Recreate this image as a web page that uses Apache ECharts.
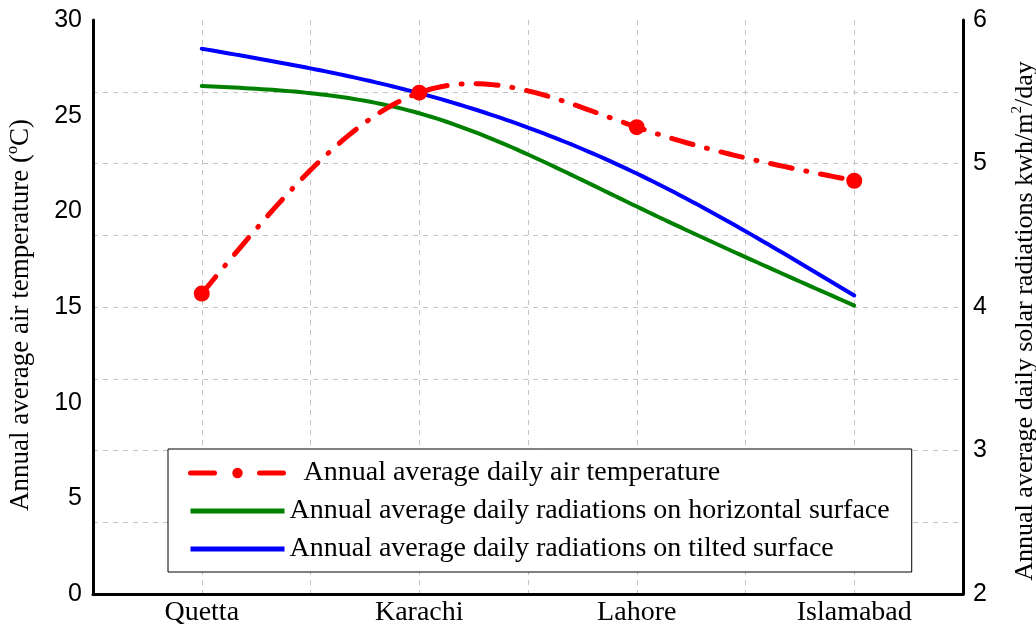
<!DOCTYPE html>
<html>
<head>
<meta charset="utf-8">
<script src="https://cdn.jsdelivr.net/npm/echarts@6/dist/echarts.min.js"></script>
<style>
  html, body { margin: 0; padding: 0; background: #fff; }
  #chart { width: 1036px; height: 628px; }
</style>
</head>
<body>
<div id="chart"></div>
<script>
// Cities along the horizontal axis
const cities = ['Quetta', 'Karachi', 'Lahore', 'Islamabad'];

// Annual average daily air temperature (°C), left axis
const airTemperature = [15.7, 26.2, 24.4, 21.6];

// Annual average daily solar radiation (kWh/m²/day), right axis
const radiationHorizontal = [5.54, 5.35, 4.70, 4.01];
const radiationTilted = [5.80, 5.49, 4.93, 4.08];

// Axis ranges and labelled ticks
const tempTicks = [0, 5, 10, 15, 20, 25, 30];
const radTicks = [2, 3, 4, 5, 6];

const nameTemp = 'Annual average daily air temperature';
const nameHoriz = 'Annual average daily radiations on horizontal surface';
const nameTilt = 'Annual average daily radiations on tilted surface';

const RED = '#ff0000', GREEN = '#008000', BLUE = '#0000ff';
const serif = '"Liberation Serif", "Times New Roman", serif';
const sans = '"Liberation Sans", Arial, sans-serif';
const gridDash = { color: '#c4c4c4', width: 1, type: [5, 5] };
const tempDash = [22, 14, 1, 14];

// Second derivatives of a natural cubic spline over equally spaced knots
function splineMoments(y) {
  const n = y.length;
  const M = new Array(n).fill(0);
  if (n < 3) return M;
  const a = [], b = [], c = [], d = [];
  for (let i = 1; i < n - 1; i++) {
    a.push(1); b.push(4); c.push(1);
    d.push(6 * (y[i + 1] - 2 * y[i] + y[i - 1]));
  }
  const m = d.length;
  for (let i = 1; i < m; i++) {
    const w = a[i] / b[i - 1];
    b[i] -= w * c[i - 1];
    d[i] -= w * d[i - 1];
  }
  const x = new Array(m);
  x[m - 1] = d[m - 1] / b[m - 1];
  for (let i = m - 2; i >= 0; i--) x[i] = (d[i] - c[i] * x[i + 1]) / b[i];
  for (let i = 0; i < m; i++) M[i + 1] = x[i];
  return M;
}

function splineAt(y, M, i, t) {
  const u = 1 - t;
  return u * y[i] + t * y[i + 1] + ((u * u * u - u) * M[i] + (t * t * t - t) * M[i + 1]) / 6;
}

// Custom series that draws a spline curve through one value array
function curveSeries(values, yAxisIndex, color, width, dash, z) {
  const M = splineMoments(values);
  return {
    type: 'custom',
    xAxisIndex: 0,
    yAxisIndex: yAxisIndex,
    data: values.map((v, i) => [i, v]),
    encode: { x: 0, y: 1 },
    silent: true,
    z: z,
    renderItem: function (params, api) {
      if (params.dataIndex !== 0) return null;
      const pts = [];
      const steps = 40;
      for (let i = 0; i < values.length - 1; i++) {
        const x0 = api.coord([i, values[i]])[0];
        const x1 = api.coord([i + 1, values[i + 1]])[0];
        for (let s = (i === 0 ? 0 : 1); s <= steps; s++) {
          const t = s / steps;
          const v = splineAt(values, M, i, t);
          pts.push([x0 + (x1 - x0) * t, api.coord([i, v])[1]]);
        }
      }
      return {
        type: 'polyline',
        shape: { points: pts },
        style: {
          stroke: color, lineWidth: width, fill: 'none',
          lineDash: dash || null, lineCap: 'round', lineJoin: 'round'
        }
      };
    }
  };
}

const chart = echarts.init(document.getElementById('chart'), null, { renderer: 'canvas' });

chart.setOption({
  animation: false,
  backgroundColor: '#ffffff',
  grid: { left: 93, right: 73, top: 20, bottom: 34, containLabel: false, outerBoundsMode: 'none' },
  legend: {
    orient: 'vertical',
    left: 168,
    top: 449,
    padding: [10, 22, 9, 20],
    itemGap: 10,
    itemWidth: 94,
    itemHeight: 13,
    borderColor: '#000',
    borderWidth: 1,
    backgroundColor: '#fff',
    data: [
      {
        name: nameTemp,
        lineStyle: { color: RED, width: 5, type: [24, 22, 1, 22], cap: 'round', opacity: 1 },
        itemStyle: { color: RED, opacity: 1 }
      },
      {
        name: nameHoriz,
        lineStyle: { color: GREEN, width: 5, type: 'solid', opacity: 1 },
        itemStyle: { opacity: 0 }
      },
      {
        name: nameTilt,
        lineStyle: { color: BLUE, width: 5, type: 'solid', opacity: 1 },
        itemStyle: { opacity: 0 }
      }
    ],
    formatter: (n) => (n === nameTemp ? '  ' + n : n),
    textStyle: { fontFamily: serif, fontSize: 28, color: '#000' }
  },
  xAxis: [
    {
      type: 'category',
      data: cities,
      boundaryGap: true,
      axisLine: { lineStyle: { color: '#000', width: 3 } },
      axisTick: { show: false },
      axisLabel: { fontFamily: serif, fontSize: 28, color: '#000', margin: 5 },
      splitLine: { show: false }
    },
    {
      // vertical grid at every half category step
      type: 'value',
      min: 0,
      max: 8,
      interval: 1,
      position: 'bottom',
      axisLine: { show: false },
      axisTick: { show: false },
      axisLabel: { show: false },
      splitLine: { show: true, lineStyle: gridDash }
    }
  ],
  yAxis: [
    {
      type: 'value',
      min: tempTicks[0],
      max: tempTicks[tempTicks.length - 1],
      interval: 5,
      position: 'left',
      name: '{n|Annual average air temperature (}{s|o}{n|C)}',
      nameLocation: 'middle',
      nameRotate: 90,
      nameGap: 56,
      nameTextStyle: {
        color: '#000',
        padding: [0, 16, 0, 0],
        rich: {
          n: { fontFamily: serif, fontSize: 27, lineHeight: 32, color: '#000' },
          s: { fontFamily: serif, fontSize: 16, lineHeight: 16, verticalAlign: 'top', color: '#000' }
        }
      },
      axisLine: { show: true, lineStyle: { color: '#000', width: 3 } },
      axisTick: { show: false },
      axisLabel: { fontFamily: sans, fontSize: 25, color: '#000', margin: 11 },
      splitLine: { show: false }
    },
    {
      type: 'value',
      min: radTicks[0],
      max: radTicks[radTicks.length - 1],
      interval: 0.5,
      position: 'right',
      name: '{n|Annual average daily solar radiations kwh/m}{s|2}{n|/day}',
      nameLocation: 'middle',
      nameRotate: 90,
      nameGap: 47,
      nameTextStyle: {
        color: '#000',
        padding: [0, 28, 0, 0],
        rich: {
          n: { fontFamily: serif, fontSize: 26, lineHeight: 30, color: '#000' },
          s: { fontFamily: serif, fontSize: 15, lineHeight: 15, verticalAlign: 'top', color: '#000' }
        }
      },
      axisLine: { show: true, lineStyle: { color: '#000', width: 3 } },
      axisTick: { show: false },
      axisLabel: {
        fontFamily: sans, fontSize: 25, color: '#000', margin: 10,
        formatter: (v) => (radTicks.includes(v) ? String(v) : '')
      },
      splitLine: { show: true, showMaxLine: false, showMinLine: false, lineStyle: gridDash }
    }
  ],
  series: [
    // legend entries and point markers
    {
      name: nameHoriz, type: 'line', xAxisIndex: 0, yAxisIndex: 1,
      data: radiationHorizontal, symbol: 'none', color: GREEN,
      lineStyle: { color: GREEN, width: 4, opacity: 0 }, z: 2
    },
    {
      name: nameTilt, type: 'line', xAxisIndex: 0, yAxisIndex: 1,
      data: radiationTilted, symbol: 'none', color: BLUE,
      lineStyle: { color: BLUE, width: 4, opacity: 0 }, z: 2
    },
    {
      name: nameTemp, type: 'line', xAxisIndex: 0, yAxisIndex: 0,
      data: airTemperature, symbol: 'circle', symbolSize: 16, showSymbol: true,
      color: RED, itemStyle: { color: RED },
      lineStyle: { color: RED, width: 5, type: tempDash, opacity: 0 }, z: 10
    },
    // spline curves
    curveSeries(radiationHorizontal, 1, GREEN, 4, null, 3),
    curveSeries(radiationTilted, 1, BLUE, 4, null, 4),
    curveSeries(airTemperature, 0, RED, 5, tempDash, 5)
  ]
});
</script>
</body>
</html>
